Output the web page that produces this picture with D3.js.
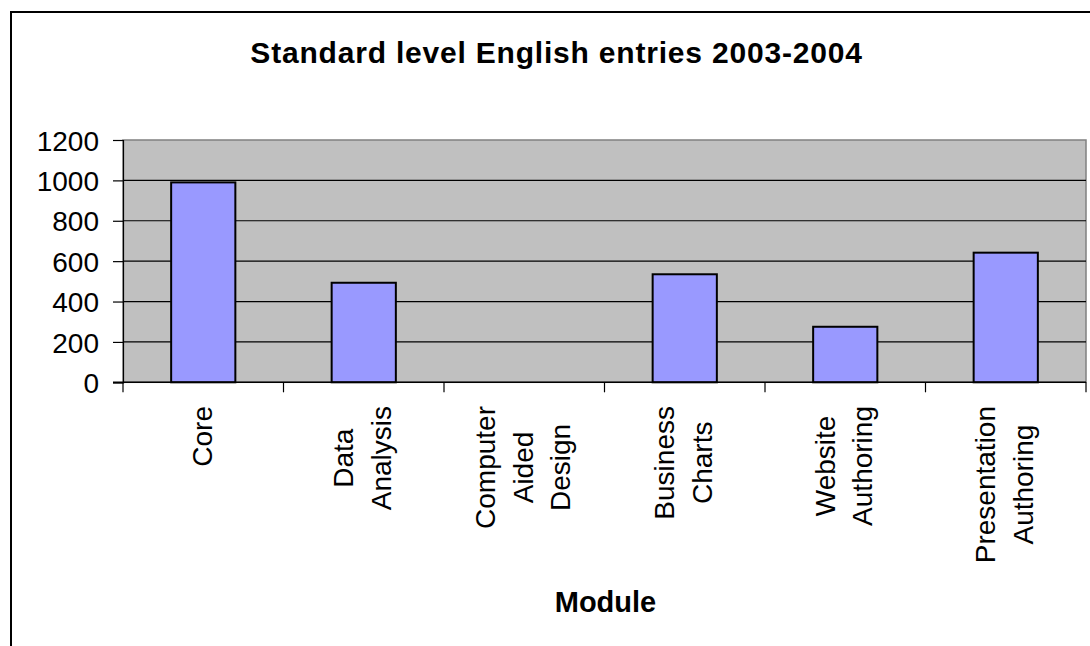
<!DOCTYPE html>
<html>
<head>
<meta charset="utf-8">
<script src="https://cdn.jsdelivr.net/npm/d3@7"></script>
<style>
  html, body { margin: 0; padding: 0; background: #fff; }
  svg { display: block; }
  text { font-family: "Liberation Sans", Arial, sans-serif; fill: #000; }
</style>
</head>
<body>
<svg id="chart" width="1090" height="646"></svg>
<script>
const title = "Standard level English entries 2003-2004";
const xTitle = "Module";
const categories = [
  ["Core"],
  ["Data", "Analysis"],
  ["Computer", "Aided", "Design"],
  ["Business", "Charts"],
  ["Website", "Authoring"],
  ["Presentation", "Authoring"]
];
const values = [990, 493, 0, 535, 275, 642];
const yTicks = [0, 200, 400, 600, 800, 1000, 1200];

const svg = d3.select("#chart");
const plot = { left: 123, right: 1086, top: 140, bottom: 382.3 };

// outer chart border
svg.append("rect")
  .attr("x", 11).attr("y", 12)
  .attr("width", 1200).attr("height", 1000)
  .attr("fill", "#fff").attr("stroke", "#000").attr("stroke-width", 2);

const keys = categories.map(c => c.join(" "));
const x = d3.scaleBand().domain(keys).range([plot.left, plot.right]).paddingInner(0.6).paddingOuter(0.3);
const xb = d3.scaleBand().domain(keys).range([plot.left, plot.right]);
const y = d3.scaleLinear().domain([0, 1200]).range([plot.bottom, plot.top]);

// plot area
svg.append("rect")
  .attr("x", plot.left).attr("y", plot.top)
  .attr("width", plot.right - plot.left).attr("height", plot.bottom - plot.top)
  .attr("fill", "#c0c0c0").attr("stroke", "#808080").attr("stroke-width", 1.5);

// gridlines
svg.append("g").selectAll("line").data(yTicks.filter(d => d > 0 && d < 1200)).join("line")
  .attr("x1", plot.left).attr("x2", plot.right)
  .attr("y1", d => y(d)).attr("y2", d => y(d))
  .attr("stroke", "#000").attr("stroke-width", 1.2);

// bars
svg.append("g").selectAll("rect").data(values).join("rect")
  .attr("x", (d, i) => x(keys[i]))
  .attr("width", x.bandwidth())
  .attr("y", d => y(d))
  .attr("height", d => plot.bottom - y(d))
  .attr("fill", "#9999ff")
  .attr("stroke", "#000")
  .attr("stroke-width", d => d > 0 ? 2 : 0);

// y axis
const yAxis = d3.axisLeft(y).tickValues(yTicks).tickFormat(d3.format("d")).tickSize(10).tickPadding(14);
const yg = svg.append("g").attr("transform", `translate(${plot.left},0)`).call(yAxis);
yg.select(".domain").attr("stroke", "#000").attr("stroke-width", 1.2);
yg.selectAll(".tick line").attr("stroke", "#000").attr("stroke-width", 1.2);
yg.selectAll(".tick text").attr("font-size", 28).attr("font-family", "Liberation Sans, Arial, sans-serif").attr("dy", "0.36em").attr("fill", "#000");

// x axis line & ticks at band boundaries
const bounds = keys.map(k => xb(k)).concat([plot.right]);
svg.append("line").attr("x1", plot.left - 10).attr("x2", plot.right)
  .attr("y1", plot.bottom).attr("y2", plot.bottom)
  .attr("stroke", "#000").attr("stroke-width", 1.4);
svg.append("g").selectAll("line").data(bounds).join("line")
  .attr("x1", d => d).attr("x2", d => d)
  .attr("y1", plot.bottom).attr("y2", plot.bottom + 10)
  .attr("stroke", "#000").attr("stroke-width", 1.2);

// x category labels (rotated, multi-line, centered lines, block aligned at top)
const labelTop = 406;
const lineGap = 37.5;
const fs = 28;
categories.forEach((lines, i) => {
  const cx = xb(keys[i]) + xb.bandwidth() / 2;
  const g = svg.append("g");
  const texts = lines.map(l => g.append("text").attr("font-size", fs).text(l));
  const maxLen = d3.max(texts, t => t.node().getComputedTextLength());
  const cy = labelTop + maxLen / 2;
  const n = lines.length;
  texts.forEach((t, j) => {
    const lx = cx + (j - (n - 1) / 2) * lineGap;
    t.attr("text-anchor", "middle")
     .attr("transform", `translate(${lx + 0.3 * fs},${cy}) rotate(-90)`);
  });
});

// title
svg.append("text").attr("x", 556.5).attr("y", 63)
  .attr("text-anchor", "middle").attr("font-size", 30).attr("font-weight", "bold")
  .attr("letter-spacing", 0.8)
  .text(title);

// x axis title
svg.append("text").attr("x", (plot.left + plot.right) / 2 + 1).attr("y", 611.5)
  .attr("text-anchor", "middle").attr("font-size", 29).attr("font-weight", "bold")
  .text(xTitle);
</script>
</body>
</html>
